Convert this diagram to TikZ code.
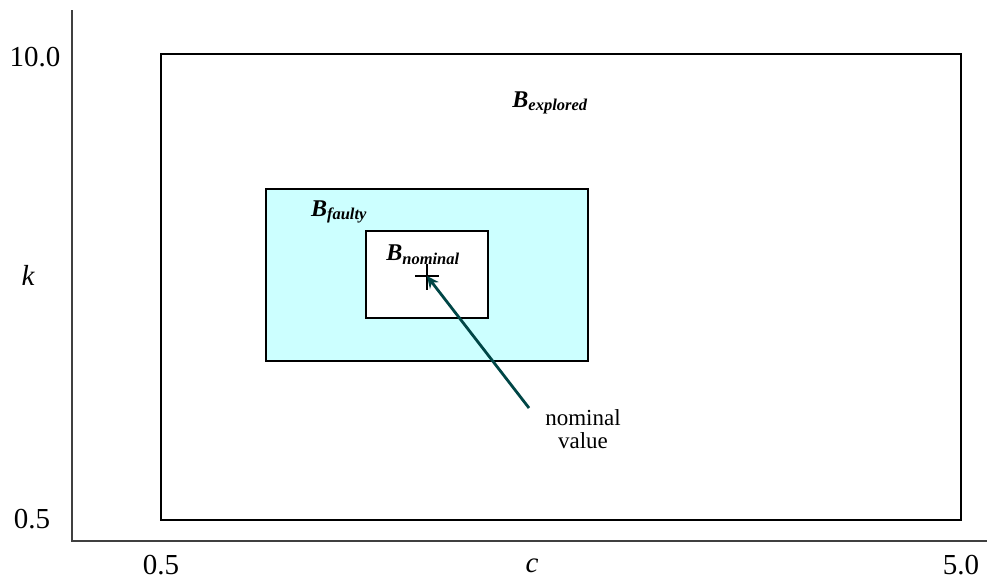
\documentclass[tikz,border=0pt]{standalone}
\usepackage{fontspec}
\setmainfont{Liberation Serif}
\usetikzlibrary{arrows.meta}
\newcommand{\subsz}{\fontsize{16.5}{18}\selectfont}
\begin{document}
\begin{tikzpicture}[x=1pt,y=-1pt,
  axis/.style={line width=1.3pt, draw=black!75},
  region/.style={draw=black, line width=2.8pt},
  ticklab/.style={font=\fontsize{29}{31}\selectfont, inner sep=0pt},
  setlab/.style={font=\fontsize{24}{26}\selectfont\bfseries\itshape, inner sep=0pt},
  note/.style={font=\fontsize{23}{23}\selectfont, align=center, inner sep=0pt},
  pointer/.style={line width=2.8pt, -{Stealth[length=12pt,width=11pt]}}
]
\useasboundingbox (0,0) rectangle (987,581);

% axes
\coordinate (ytop) at (72,10);
\coordinate (orig) at (72,541);
\coordinate (xend) at (987,541);
\draw[axis] (ytop) -- (orig) -- (xend);

% explored, faulty and nominal parameter boxes
\draw[region] (161,54) rectangle (961,520);
\draw[region, fill={rgb,255:red,204;green,255;blue,255}] (266,189) rectangle (588,361);
\draw[region, fill=white] (366,231) rectangle (488,318);

% nominal point
\coordinate (nom) at (427,276);
\draw[line width=2.8pt] (415,276) -- (439,276);
\draw[line width=2.8pt] (427,264) -- (427,290);

% labels of the sets
\node[setlab] (bexp) at (550,103) {B\textsubscript{\subsz explored}};
\node[setlab] (bfau) at (339,212) {B\textsubscript{\subsz faulty}};
\node[setlab] (bnom) at (423,255) {B\textsubscript{\subsz nominal}};

% annotation
\node[note] (nv) at (583,429) {nominal\\value};
\coordinate (tail) at (529,408);
\draw[pointer, draw={rgb,255:red,0;green,70;blue,70}] (tail) -- (nom);

% tick labels
\node[ticklab] (y1) at (35,57) {10.0};
\node[ticklab] (y0) at (32,519) {0.5};
\node[ticklab, font=\fontsize{29}{31}\selectfont\itshape] (ky) at (28,275) {k};
\node[ticklab] (x0) at (161,565) {0.5};
\node[ticklab, font=\fontsize{29}{31}\selectfont\itshape] (cx) at (532,566) {c};
\node[ticklab] (x1) at (961,565) {5.0};
\end{tikzpicture}
\end{document}
